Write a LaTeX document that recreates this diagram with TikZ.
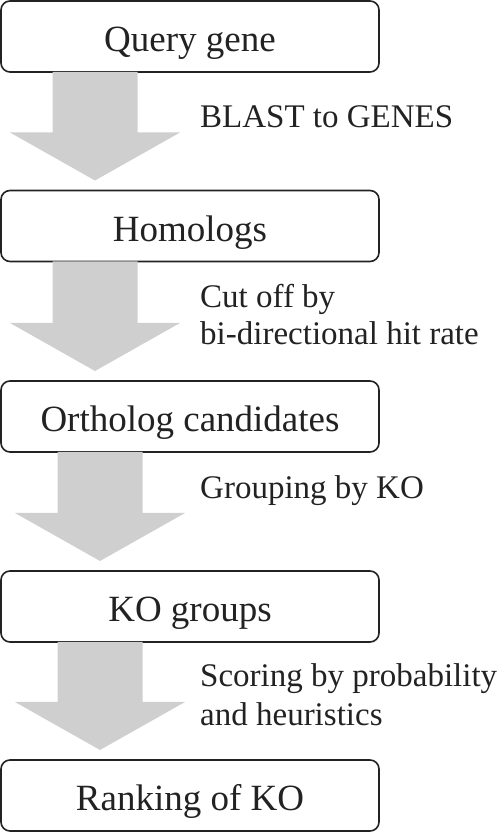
\documentclass[tikz,border=0pt]{standalone}
\usepackage{fontspec}
\setmainfont{Liberation Serif}
\usetikzlibrary{calc}
\definecolor{ink}{HTML}{222222}
\definecolor{arrowgray}{HTML}{CFCFCF}
\tikzset{
  stagebox/.style={draw=ink, line width=1.6pt, rounded corners=9pt, fill=white,
    minimum width=378pt, minimum height=71pt, inner sep=0pt, outer sep=0pt,
    text=ink, font=\fontsize{37}{40}\selectfont, text height=33pt, text depth=2pt},
  steplabel/.style={anchor=base west, inner sep=0pt, text=ink,
    font=\fontsize{33}{38}\selectfont},
  blockarrow/.style={fill=arrowgray, draw=none}
}
\newcommand{\flowarrow}[3]{%
  \fill[blockarrow] let \p1=(#1.south), \p2=(#2.north) in
    (#3-42.5,\y1) -- (#3+42.5,\y1) -- (#3+42.5,\y2+58) -- (#3+85,\y2+58)
    -- (#3,\y2+10) -- (#3-85,\y2+58) -- (#3-42.5,\y2+58) -- cycle;}
\begin{document}
\begin{tikzpicture}[x=1pt,y=1pt]
\useasboundingbox (0,0) rectangle (500,833);
\node[stagebox] (query) at (190,796.5) {Query gene};
\node[stagebox] (homologs) at (190,607) {Homologs};
\node[stagebox] (ortho) at (190,416.5) {Ortholog candidates};
\node[stagebox] (kogroups) at (190,226.5) {KO groups};
\node[stagebox] (ranking) at (190,37.5) {Ranking of KO};
\flowarrow{query}{homologs}{95}
\flowarrow{homologs}{ortho}{95}
\flowarrow{ortho}{kogroups}{100}
\flowarrow{kogroups}{ranking}{100}
\node[steplabel] (l1) at (200,705) {BLAST to GENES};
\node[steplabel] (l2a) at (200,525) {Cut off by};
\node[steplabel] (l2b) at (200,488) {bi-directional hit rate};
\node[steplabel] (l3) at (200,334) {Grouping by KO};
\node[steplabel] (l4a) at (200,146) {Scoring by probability};
\node[steplabel] (l4b) at (200,107) {and heuristics};
\end{tikzpicture}
\end{document}
